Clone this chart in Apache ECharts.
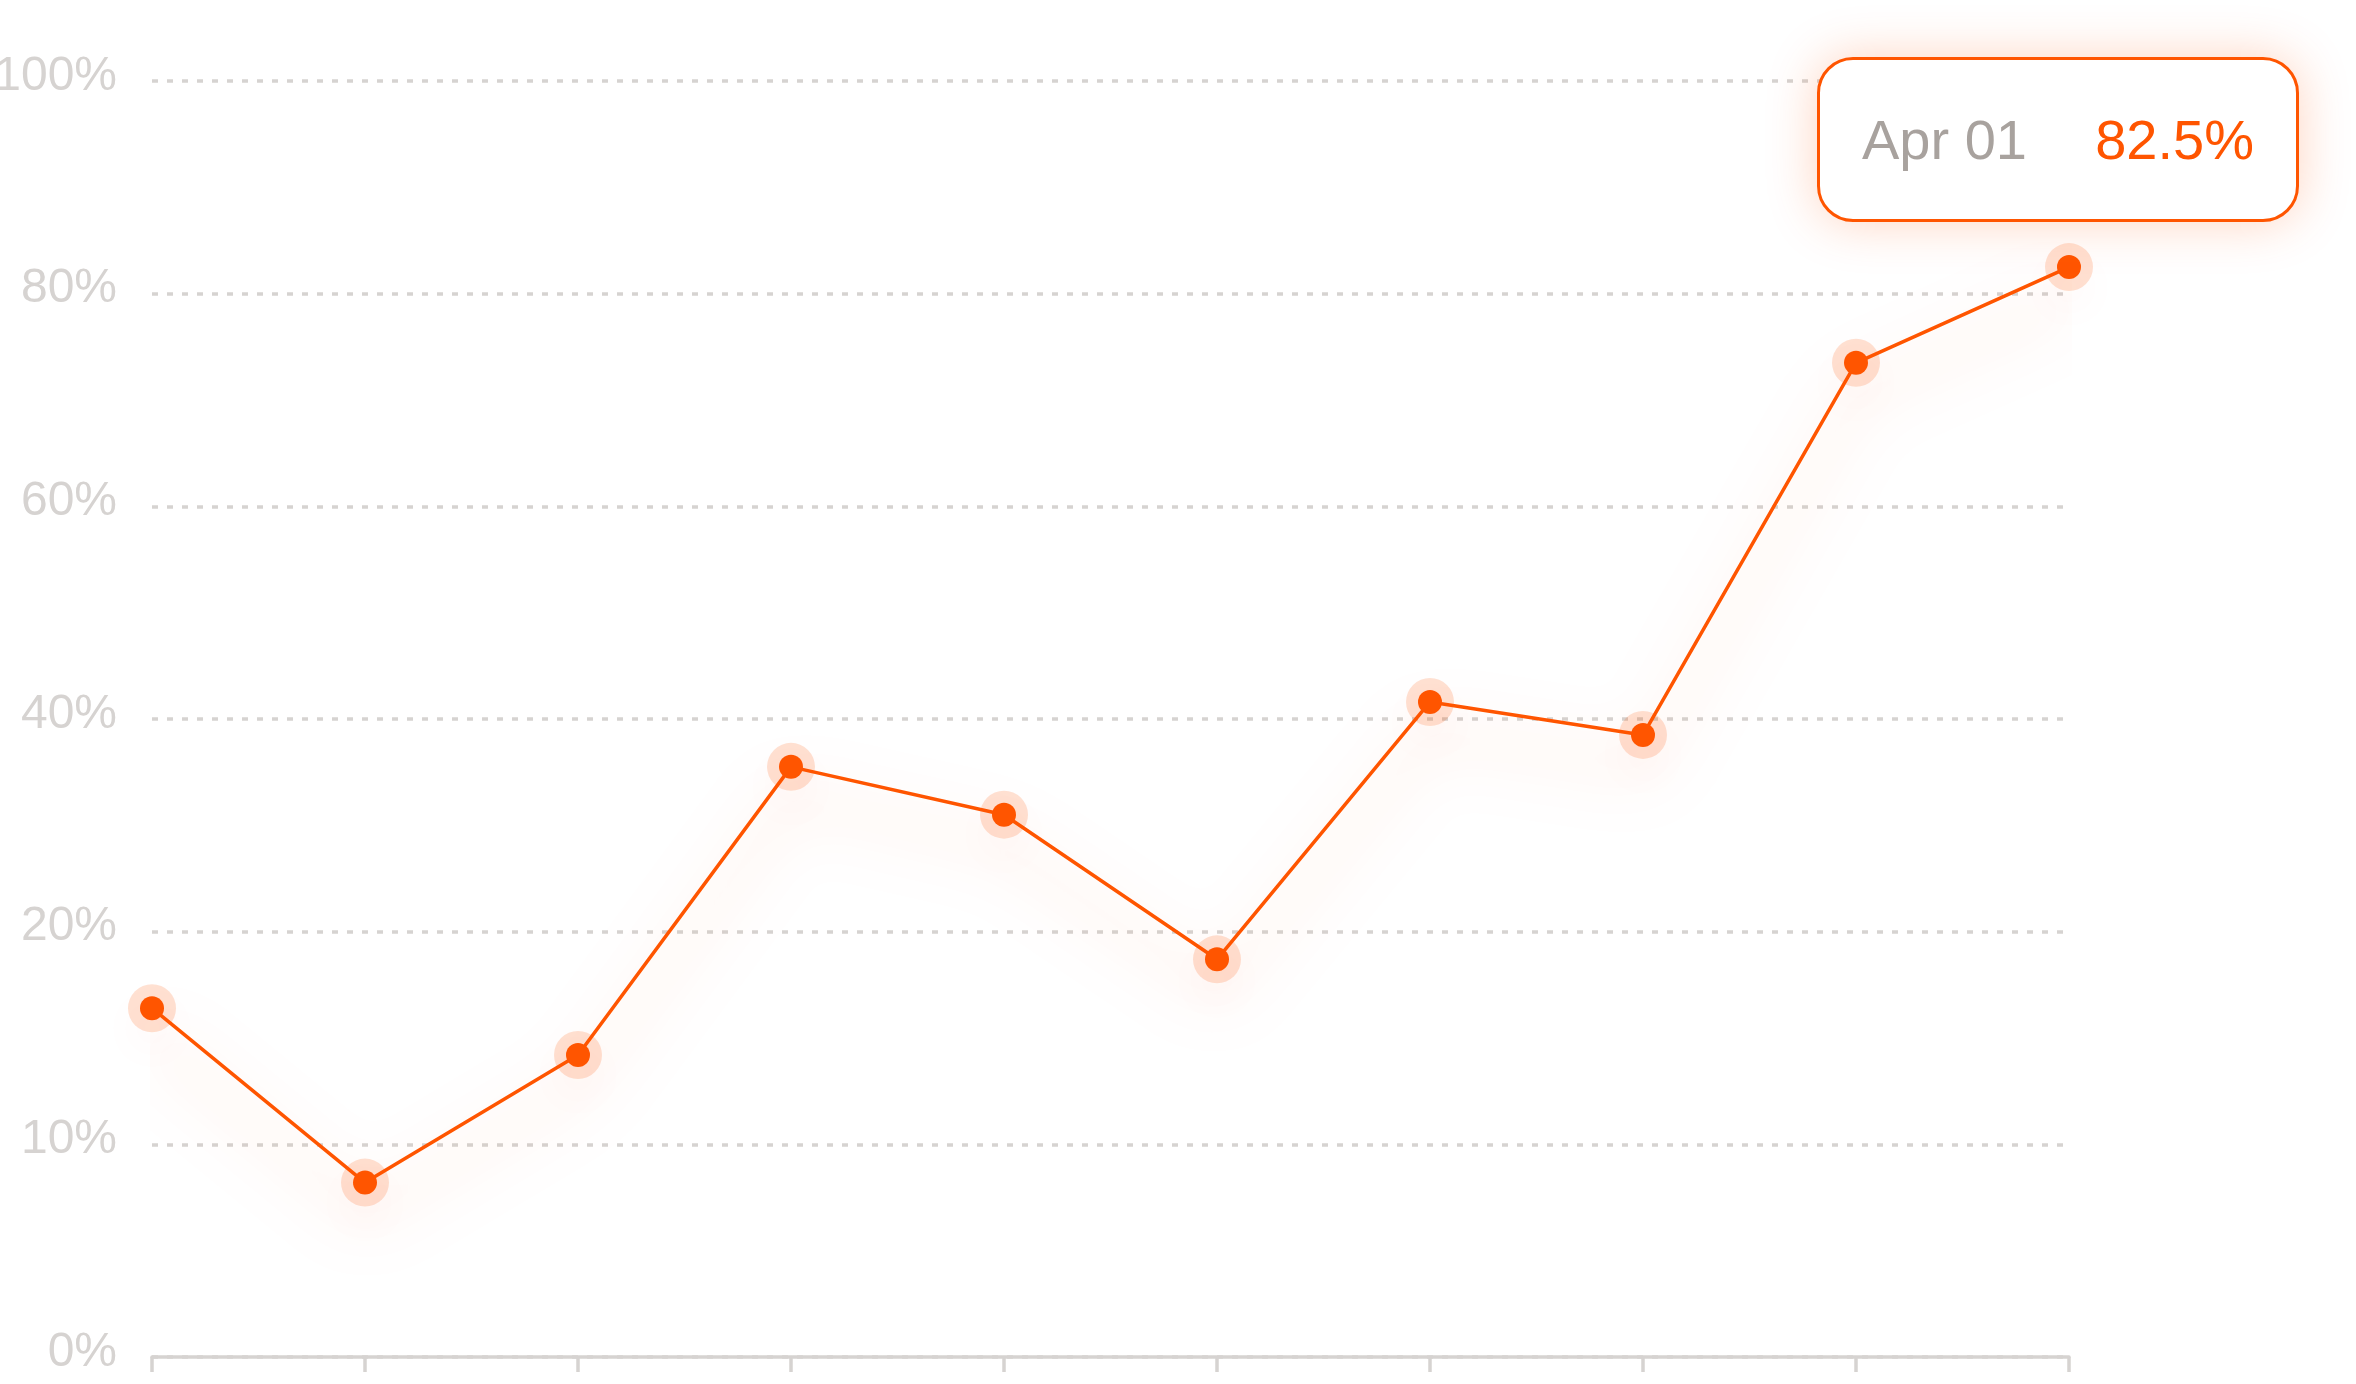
<!DOCTYPE html>
<html lang="en">
<head>
    <meta charset="UTF-8" />
    <title>Rate</title>
    <style>
        html, body { margin: 0; padding: 0; background: #fff; }
    </style>
</head>
<body>
<div id="main" style="width: 2356px; height: 1384px;"></div>
<script src="https://cdn.jsdelivr.net/npm/echarts@6/dist/echarts.min.js"></script>
<script type="text/javascript">
    // data
    var categories = ['Jan 29', 'Feb 05', 'Feb 12', 'Feb 19', 'Feb 26', 'Mar 04', 'Mar 11', 'Mar 18', 'Mar 25', 'Apr 01'];
    var rateValues = [16.4, 8.2, 14.2, 35.5, 31.0, 18.7, 41.6, 38.5, 73.5, 82.5];
    // y ticks are evenly spaced but not evenly valued
    var tickValues = [0, 10, 20, 40, 60, 80, 100];
    var tickLabels = ['0%', '10%', '20%', '40%', '60%', '80%', '100%'];

    var orange = '#ff5500';
    var grey = '#d6d3d1';

    // map a percentage onto the piecewise tick scale (one unit per tick)
    function toAxis(v) {
        for (var i = 1; i < tickValues.length; i++) {
            if (v <= tickValues[i]) {
                return (i - 1) + (v - tickValues[i - 1]) / (tickValues[i] - tickValues[i - 1]);
            }
        }
        return tickValues.length - 1;
    }

    var axisData = rateValues.map(function (v, i) {
        return { value: toAxis(v), raw: v };
    });

    var myChart = echarts.init(document.getElementById('main'));

    var option = {
        animation: false,
        backgroundColor: '#fff',
        grid: {
            left: 152,
            right: 287,
            top: 81,
            bottom: 27,
            containLabel: false,
            outerBoundsMode: 'none'
        },
        tooltip: {
            trigger: 'item',
            triggerOn: 'none',
            alwaysShowContent: true,
            transitionDuration: 0,
            position: [1817, 57],
            padding: 0,
            backgroundColor: '#fff',
            borderColor: orange,
            borderWidth: 3,
            borderRadius: 36,
            extraCssText: 'box-shadow: 0 0 50px rgba(255,85,0,0.25); border-radius: 36px; box-sizing: border-box; width: 482px; height: 165px;',
            formatter: function (p) {
                return '<div style="height:159px;line-height:159px;padding:0 42px;white-space:nowrap;' +
                    'font-family:\'Liberation Sans\',Arial,sans-serif;font-size:56px;">' +
                    '<span style="color:#a8a29e;">' + p.name + '</span>' +
                    '<span style="color:' + orange + ';float:right;">' + p.data.raw + '%</span>' +
                    '</div>';
            }
        },
        xAxis: {
            type: 'category',
            boundaryGap: false,
            data: categories,
            axisLine: { lineStyle: { color: grey, width: 3.5 } },
            axisTick: { show: true, length: 15, interval: 0, lineStyle: { color: grey, width: 3.5 } },
            axisLabel: { show: false },
            splitLine: { show: false }
        },
        yAxis: {
            type: 'value',
            min: 0,
            max: tickValues.length - 1,
            interval: 1,
            axisLine: { show: false },
            axisTick: { show: false },
            axisLabel: {
                margin: 35,
                color: grey,
                fontSize: 48,
                fontFamily: 'Liberation Sans',
                verticalAlign: 'bottom',
                lineHeight: 9,
                formatter: function (v) { return tickLabels[Math.round(v)]; }
            },
            splitLine: {
                lineStyle: { color: grey, width: 3.5, type: [6, 9] }
            }
        },
        series: [
            {
                // soft halo behind each point
                type: 'scatter',
                data: axisData.map(function (d) { return d.value; }),
                symbolSize: 48,
                silent: true,
                z: 1,
                itemStyle: {
                    color: 'rgba(255,85,0,0.22)',
                    shadowColor: 'rgba(255,85,0,0.15)',
                    shadowBlur: 40,
                    shadowOffsetY: 20
                }
            },
            {
                name: 'Rate',
                type: 'line',
                data: axisData,
                symbol: 'circle',
                symbolSize: 24,
                showSymbol: true,
                z: 3,
                emphasis: { disabled: true },
                lineStyle: {
                    color: orange,
                    width: 3.5,
                    shadowColor: 'rgba(255,85,0,0.5)',
                    shadowBlur: 60,
                    shadowOffsetY: 32
                },
                itemStyle: {
                    color: orange,
                    borderWidth: 0
                }
            }
        ]
    };

    myChart.setOption(option);
    myChart.dispatchAction({ type: 'showTip', seriesIndex: 1, dataIndex: rateValues.length - 1 });
</script>
</body>
</html>
